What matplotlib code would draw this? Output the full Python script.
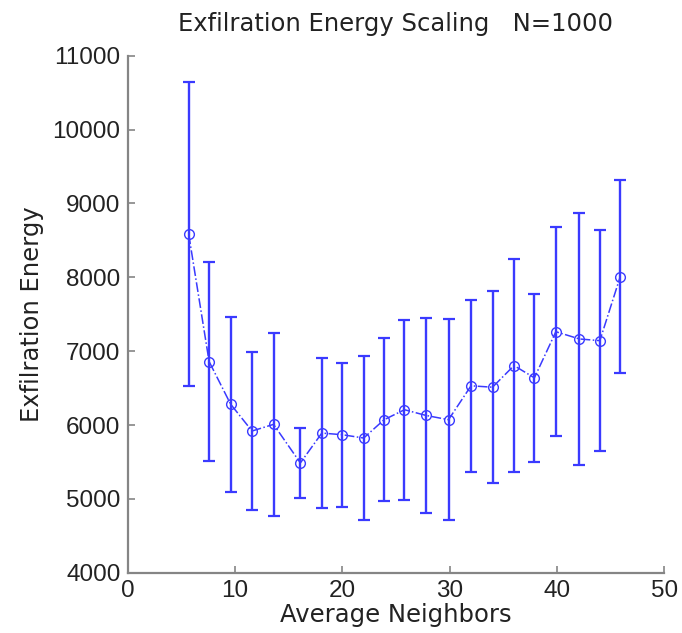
import matplotlib
matplotlib.use("Agg")
import matplotlib.pyplot as plt

# average neighbors per run, mean exfiltration energy and its spread
neighbors = [5.7, 7.6, 9.6, 11.6, 13.6, 16.1, 18.1, 20.0, 22.0, 23.9, 25.8,
             27.8, 29.9, 32.0, 34.0, 36.0, 37.9, 39.9, 42.1, 44.0, 45.9]
energy = [8582, 6860, 6284, 5920, 6010, 5488, 5892, 5870, 5825, 6073, 6208,
          6131, 6073, 6532, 6513, 6806, 6640, 7264, 7166, 7143, 8010]
spread = [2057, 1347, 1185, 1065, 1238, 474, 1018, 976, 1104, 1103, 1218,
          1320, 1360, 1165, 1300, 1445, 1135, 1415, 1711, 1497, 1303]

label_font = ['DejaVu Sans']
tick_font = ['Liberation Sans', 'DejaVu Sans']

fig = plt.figure(figsize=(6.82, 6.33), dpi=100)
ax = fig.add_axes([0.187, 0.095, 0.787, 0.817])

line_color = '#3a3aff'
ax.errorbar(neighbors, energy, yerr=spread, fmt='o-.', color=line_color,
            mfc='none', mec=line_color, ms=7, lw=1.1, elinewidth=1.7,
            capsize=4.5, capthick=1.6)

ax.set_xlim(0, 50)
ax.set_ylim(4000, 11000)
ax.set_xticks([0, 10, 20, 30, 40, 50])
ax.set_yticks(range(4000, 11001, 1000))

for side in ['top', 'right']:
    ax.spines[side].set_visible(False)
for side in ['left', 'bottom']:
    ax.spines[side].set_color('#858585')
    ax.spines[side].set_linewidth(1.6)
ax.tick_params(direction='in', length=5, width=1.2, color='#858585',
               labelcolor='#222222', pad=5)
for lbl in ax.get_xticklabels() + ax.get_yticklabels():
    lbl.set_family(tick_font)
    lbl.set_fontsize(17.5)

ax.set_title('Exfilration Energy Scaling   N=1000', fontsize=17.5,
             family=label_font, color='#222222', pad=18)
ax.set_xlabel('Average Neighbors', fontsize=17.5, family=label_font,
              color='#222222', labelpad=1)
ax.set_ylabel('Exfilration Energy', fontsize=17.5, family=label_font,
              color='#222222', labelpad=6)

fig.savefig('out.png', dpi=100)
